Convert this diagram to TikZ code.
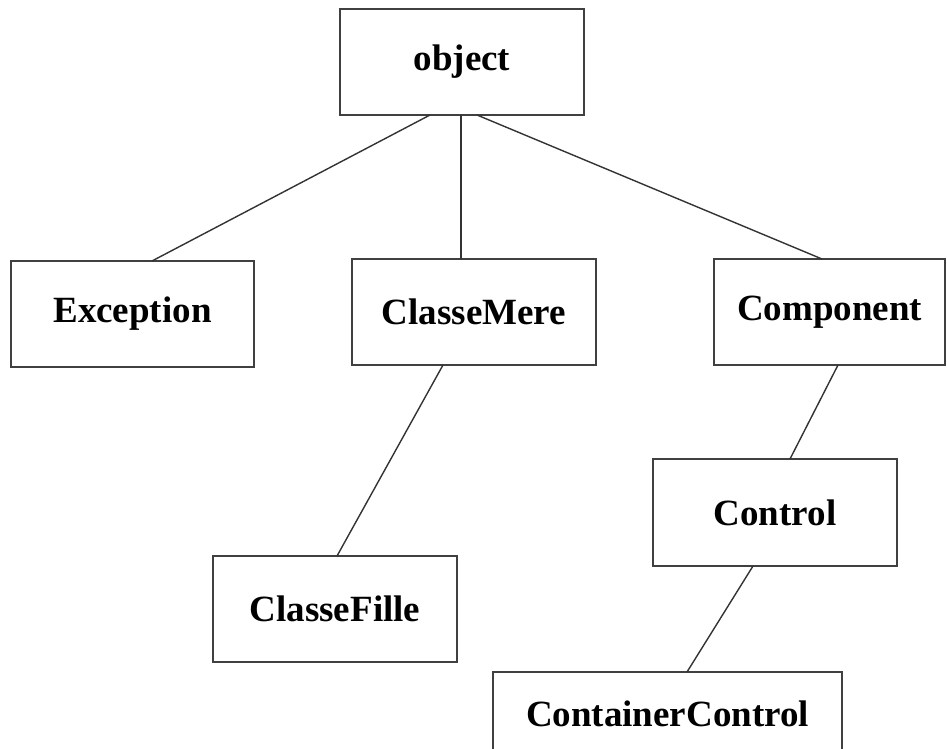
\documentclass[tikz,border=0pt]{standalone}
\usepackage{fontspec}
\setmainfont{Liberation Serif}
\usepackage{tikz}
\usetikzlibrary{positioning}

\begin{document}
\begin{tikzpicture}[
    x=1pt, y=1pt,
    classbox/.style={rectangle, draw=black!75, line width=1.6pt, fill=white, minimum width=244pt, minimum height=106pt, inner sep=0pt, outer sep=0pt, font=\fontsize{37}{42}\selectfont\bfseries},
    link/.style={draw=black!80, line width=1.4pt}
]
\useasboundingbox (0,0) rectangle (947,-749);

% Root
\node[classbox] (object) at (462,-62) {object};

% First level
\node[classbox, minimum width=243pt] (exception) at (132.5,-314) {Exception};
\node[classbox] (classemere) at (474,-312) {ClasseMere};
\node[classbox, minimum width=231pt] (component) at (829.5,-312) {Component};

% Second level
\node[classbox, minimum height=107pt] (control) at (775,-512.5) {Control};
\node[classbox] (classefille) at (335,-609) {ClasseFille};

% Third level
\node[classbox, minimum width=349pt, minimum height=84pt] (containercontrol) at (667.5,-714) {ContainerControl};

% Links
\draw[link] ([xshift=-32pt]object.south) -- ([xshift=19.5pt]exception.north);
\draw[link] ([xshift=-1pt]object.south) -- ([xshift=-13pt]classemere.north);
\draw[link] ([xshift=15pt]object.south) -- ([xshift=-7.5pt]component.north);
\draw[link] ([xshift=-31pt]classemere.south) -- ([xshift=2pt]classefille.north);
\draw[link] ([xshift=8.5pt]component.south) -- ([xshift=15pt]control.north);
\draw[link] ([xshift=-22pt]control.south) -- ([xshift=19.5pt]containercontrol.north);

\end{tikzpicture}
\end{document}
